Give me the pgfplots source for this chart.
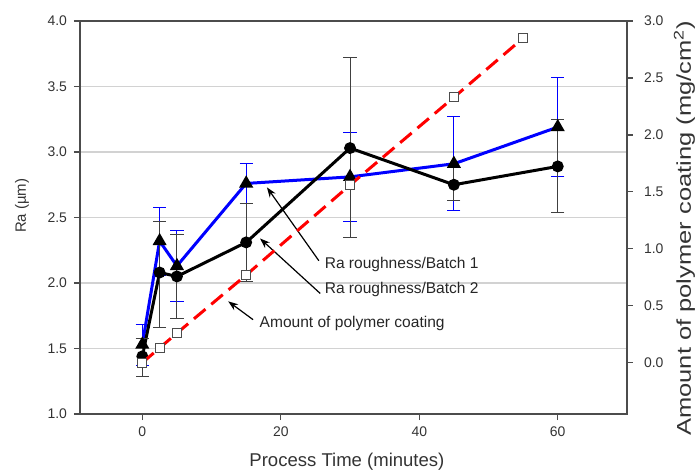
\documentclass[border=0pt]{standalone}
\usepackage{fontspec}
\setmainfont{Liberation Sans}
\usepackage{graphicx}
\usepackage{pgfplots}
\pgfplotsset{compat=1.18}
\usetikzlibrary{arrows.meta}

% Ra roughness, batch 1 (blue): time, Ra, err+, err-
\pgfplotstableread{
t    ra    ep    em
0    1.53  0.15  0.16
2.5  2.32  0.26  0.26
5    2.13  0.27  0.27
15   2.76  0.15  0.15
30   2.81  0.34  0.34
45   2.91  0.36  0.36
60   3.19  0.38  0.38
}\batchone

% Ra roughness, batch 2 (black)
\pgfplotstableread{
t    ra    ep    em
0    1.44  0.14  0.15
2.5  2.08  0.39  0.42
5    2.05  0.32  0.32
15   2.31  0.30  0.30
30   3.03  0.69  0.68
45   2.75  0.13  0.12
60   2.89  0.36  0.35
}\batchtwo

% amount of polymer coating (right axis)
\pgfplotstableread{
t    amt
0    0.00
2.5  0.13
5    0.26
15   0.77
30   1.56
45   2.33
55   2.85
}\coating

\tikzset{
  annot/.style={font=\fontsize{7.8}{9}\selectfont, text=black!85, anchor=west, inner sep=0pt},
  annarr/.style={-{Stealth[length=5bp,width=3.6bp]}, line width=0.6bp, black},
}

\begin{document}
\begin{tikzpicture}
\useasboundingbox (-40bp,-28.5bp) rectangle (308.5bp,207bp);
\begin{axis}[
  at={(0,0)}, anchor=south west,
  width=273.5bp, height=196.5bp, scale only axis,
  xmin=-9, xmax=70, ymin=1, ymax=4,
  xtick={0,20,40,60},
  ytick={1.0,1.5,2.0,2.5,3.0,3.5,4.0},
  xtick pos=bottom, ytick pos=left,
  tick align=outside, major tick length=3bp,
  tick style={black!70, line width=0.6bp},
  axis line style={black!70, line width=1bp},
  ymajorgrids, grid style={gray!35, line width=0.6bp},
  /pgf/number format/assume math mode=true,
  every tick label/.append style={font=\fontsize{7}{8}\selectfont, text=black!80},
  yticklabel style={/pgf/number format/.cd, fixed, fixed zerofill, precision=1},
  xlabel={Process Time (minutes)},
  xlabel style={at={(axis description cs:0.488,-0.122)}, anchor=center,
    font=\fontsize{9.3}{11}\selectfont, text=black!80},
  ylabel={Ra (µm)},
  ylabel style={at={(axis description cs:-0.106,0.53)}, anchor=center,
    font=\fontsize{7.5}{9}\selectfont, text=black!80},
  clip=false,
]
  \addplot[blue, line width=1.5bp, mark=triangle*, mark size=2.6bp,
    mark options={black, fill=black},
    error bars/.cd, y dir=both, y explicit,
    error bar style={blue, line width=0.5bp},
    error mark options={rotate=90, blue, mark size=3.3bp, line width=0.5bp}]
    table[x=t, y=ra, y error plus=ep, y error minus=em] {\batchone};
  \addplot[black, line width=1.5bp, mark=*, mark size=2.2bp,
    mark options={black, fill=black},
    error bars/.cd, y dir=both, y explicit,
    error bar style={black!75, line width=0.5bp},
    error mark options={rotate=90, black!75, mark size=3.3bp, line width=0.5bp}]
    table[x=t, y=ra, y error plus=ep, y error minus=em] {\batchtwo};

  \draw[annarr] (axis cs:25.5,2.17) -- (axis cs:18.0,2.73);
  \draw[annarr] (axis cs:25.7,1.92) -- (axis cs:17.0,2.34);
  \draw[annarr] (axis cs:16.0,1.72) -- (axis cs:12.4,1.86);
  \node[annot] at (axis cs:26.3,2.14) {Ra roughness/Batch 1};
  \node[annot] at (axis cs:26.3,1.95) {Ra roughness/Batch 2};
  \node[annot] at (axis cs:16.9,1.69) {Amount of polymer coating};
\end{axis}

\begin{axis}[
  at={(0,0)}, anchor=south west,
  width=273.5bp, height=196.5bp, scale only axis,
  xmin=-9, xmax=70, ymin=-0.45, ymax=3,
  axis x line=none, axis y line*=right,
  ytick={0.0,0.5,1.0,1.5,2.0,2.5,3.0},
  tick align=outside, major tick length=3bp,
  tick style={black!70, line width=0.6bp},
  axis line style={black!70, line width=1bp},
  /pgf/number format/assume math mode=true,
  every tick label/.append style={font=\fontsize{7}{8}\selectfont, text=black!80},
  yticklabel style={xshift=2bp, /pgf/number format/.cd, fixed, fixed zerofill, precision=1},
  ylabel={\scalebox{1.28}[1]{Amount of polymer coating (mg/cm\textsuperscript{2})}},
  ylabel style={at={(axis description cs:1.105,0.473)}, anchor=center,
    font=\fontsize{10}{12}\selectfont, text=black!80},
  clip=false,
]
  \addplot[red, line width=1.5bp, dash pattern=on 7.5bp off 3.8bp,
    mark=square*, mark size=2.3bp,
    mark options={solid, fill=white, draw=black!70, line width=0.5bp}]
    table[x=t, y=amt] {\coating};
\end{axis}
\end{tikzpicture}
\end{document}
